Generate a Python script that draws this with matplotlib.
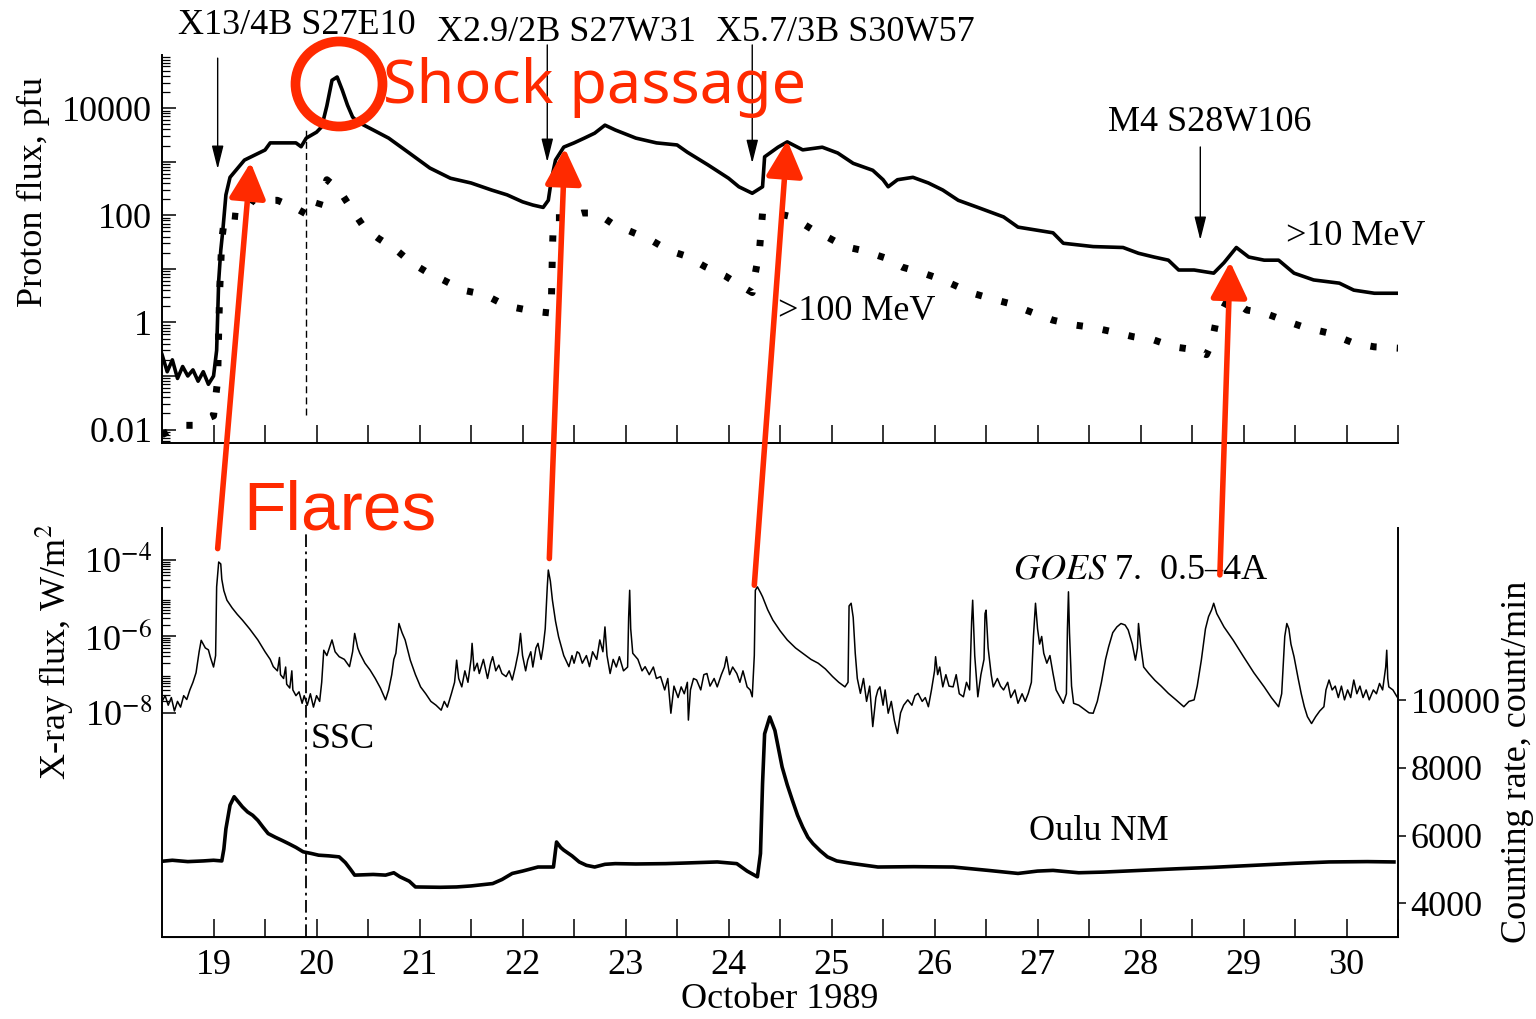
import numpy as np
import matplotlib
matplotlib.use("Agg")
import matplotlib.pyplot as plt
from matplotlib.patches import Ellipse, ConnectionPatch
from matplotlib.ticker import FixedLocator, FuncFormatter, NullFormatter

plt.rcParams['font.family'] = 'Liberation Serif'
plt.rcParams['mathtext.fontset'] = 'stix'
plt.rcParams['font.size'] = 26

RED = '#FF2A00'

# >10 MeV proton flux (pfu)
p10_day = [18.50, 18.55, 18.60, 18.65, 18.70, 18.75, 18.80, 18.85, 18.90, 18.95, 19.00, 19.03,
           19.05, 19.07, 19.09, 19.12, 19.16, 19.30, 19.50, 19.55, 19.80, 19.85, 19.90, 20.00,
           20.05, 20.10, 20.15, 20.20, 20.25, 20.30, 20.35, 20.40, 20.55, 20.70, 20.90, 21.10,
           21.30, 21.50, 21.70, 21.85, 22.00, 22.10, 22.20, 22.25, 22.28, 22.32, 22.40, 22.50,
           22.60, 22.70, 22.80, 22.90, 23.10, 23.30, 23.50, 23.60, 23.80, 24.00, 24.10, 24.23,
           24.33, 24.35, 24.48, 24.57, 24.72, 24.91, 25.06, 25.21, 25.40, 25.50, 25.55, 25.64,
           25.79, 25.94, 26.08, 26.23, 26.42, 26.67, 26.81, 27.15, 27.25, 27.54, 27.83, 27.98,
           28.13, 28.27, 28.37, 28.52, 28.71, 28.81, 28.93, 29.05, 29.20, 29.34, 29.49, 29.68,
           29.93, 30.07, 30.27, 30.50]
p10_flux = [0.25, 0.12, 0.20, 0.09, 0.15, 0.10, 0.13, 0.08, 0.12, 0.07, 0.10, 0.30,
            6, 22, 52, 240, 510, 1070, 1650, 2240, 2240, 1900, 2750, 3550,
            4470, 11000, 33000, 38000, 21600, 11400, 6800, 5500, 3900, 2750, 1450, 760,
            490, 400, 295, 240, 178, 155, 140, 190, 460, 1070, 1870, 2240,
            2750, 3400, 4800, 3900, 2750, 2240, 2050, 1500, 870, 490, 340, 257,
            340, 1230, 1860, 2340, 1660, 1860, 1450, 930, 690, 460, 340, 460,
            510, 400, 295, 190, 140, 93, 60, 47, 30, 26, 25, 19.5,
            16.6, 14.5, 9.5, 9.5, 8.3, 13, 25, 16.6, 14.5, 14.5, 8.3, 6.2,
            5.4, 4.0, 3.5, 3.5]

# >100 MeV proton flux (pfu)
p100_day = [18.50, 18.60, 18.70, 18.80, 18.90, 19.00, 19.04, 19.05, 19.06, 19.08, 19.11, 19.28,
            19.38, 19.62, 19.80, 19.95, 20.00, 20.10, 20.22, 20.33, 20.46, 20.60, 20.78, 20.92,
            21.07, 21.23, 21.42, 21.63, 21.77, 21.92, 22.12, 22.27, 22.28, 22.29, 22.30, 22.42,
            22.58, 22.72, 22.87, 23.08, 23.24, 23.42, 23.60, 23.77, 23.97, 24.12, 24.23, 24.26,
            24.30, 24.33, 24.45, 24.62, 24.82, 24.96, 25.13, 25.30, 25.52, 25.69, 25.89, 26.08,
            26.23, 26.37, 26.57, 26.71, 26.96, 27.15, 27.35, 27.54, 27.74, 27.93, 28.13, 28.32,
            28.52, 28.64, 28.69, 28.73, 28.83, 28.90, 29.03, 29.20, 29.39, 29.59, 29.83, 30.07,
            30.27, 30.51]
p100_flux = [0.008, 0.010, 0.012, 0.012, 0.015, 0.018, 0.085, 0.7, 4, 35, 100, 93,
             190, 190, 135, 93, 110, 460, 295, 140, 60, 37, 22, 13,
             8.7, 6.2, 4.0, 3.3, 2.4, 1.9, 1.6, 1.5, 2.4, 22, 90, 90,
             110, 110, 70, 47, 35, 22, 17, 11, 7.3, 4.8, 3.6, 8.3,
             22, 110, 110, 93, 53, 39, 26, 22, 16, 10.7, 8.3, 6.2,
             4.6, 3.5, 2.7, 2.3, 1.5, 1.1, 0.9, 0.8, 0.66, 0.54, 0.47, 0.35,
             0.31, 0.25, 0.41, 0.98, 2.3, 2.6, 1.7, 1.5, 1.1, 0.81, 0.63, 0.41,
             0.35, 0.33]

# GOES 7 X-ray flux, log10(W/m^2)
xray_day = [18.50, 18.53, 18.56, 18.59, 18.62, 18.65, 18.68, 18.71, 18.74, 18.77, 18.80, 18.83,
            18.86, 18.88, 18.90, 18.92, 18.95, 18.97, 19.00, 19.02, 19.03, 19.05, 19.07, 19.08,
            19.10, 19.13, 19.18, 19.23, 19.28, 19.35, 19.43, 19.50, 19.55, 19.58, 19.62, 19.64,
            19.65, 19.68, 19.70, 19.71, 19.74, 19.76, 19.77, 19.80, 19.83, 19.86, 19.88, 19.91,
            19.94, 19.97, 20.00, 20.03, 20.05, 20.07, 20.10, 20.15, 20.18, 20.22, 20.27, 20.32,
            20.35, 20.37, 20.40, 20.42, 20.47, 20.52, 20.57, 20.62, 20.67, 20.70, 20.73, 20.75,
            20.77, 20.80, 20.83, 20.86, 20.91, 20.96, 21.01, 21.06, 21.11, 21.16, 21.21, 21.24,
            21.27, 21.31, 21.34, 21.36, 21.38, 21.41, 21.44, 21.47, 21.50, 21.51, 21.53, 21.56,
            21.58, 21.62, 21.66, 21.69, 21.71, 21.74, 21.77, 21.80, 21.84, 21.87, 21.90, 21.93,
            21.96, 21.98, 22.00, 22.03, 22.05, 22.08, 22.10, 22.13, 22.15, 22.18, 22.20, 22.22,
            22.24, 22.25, 22.27, 22.29, 22.32, 22.35, 22.40, 22.45, 22.48, 22.50, 22.53, 22.55,
            22.58, 22.62, 22.65, 22.68, 22.72, 22.75, 22.78, 22.80, 22.82, 22.85, 22.88, 22.91,
            22.94, 22.98, 23.02, 23.03, 23.04, 23.05, 23.07, 23.12, 23.16, 23.19, 23.23, 23.27,
            23.30, 23.34, 23.38, 23.41, 23.44, 23.47, 23.51, 23.54, 23.57, 23.60, 23.61, 23.63,
            23.66, 23.69, 23.73, 23.76, 23.79, 23.82, 23.86, 23.89, 23.93, 23.96, 23.98, 24.01,
            24.04, 24.08, 24.11, 24.14, 24.18, 24.21, 24.23, 24.25, 24.26, 24.28, 24.31, 24.33,
            24.38, 24.43, 24.50, 24.57, 24.65, 24.72, 24.80, 24.87, 24.94, 25.01, 25.07, 25.13,
            25.16, 25.17, 25.19, 25.21, 25.23, 25.25, 25.28, 25.31, 25.34, 25.37, 25.40, 25.43,
            25.45, 25.47, 25.50, 25.52, 25.55, 25.58, 25.61, 25.64, 25.67, 25.70, 25.74, 25.78,
            25.81, 25.84, 25.88, 25.91, 25.94, 25.97, 26.00, 26.01, 26.03, 26.05, 26.08, 26.11,
            26.14, 26.18, 26.21, 26.24, 26.28, 26.31, 26.34, 26.36, 26.37, 26.39, 26.42, 26.45,
            26.48, 26.49, 26.50, 26.52, 26.55, 26.57, 26.61, 26.64, 26.67, 26.71, 26.74, 26.78,
            26.81, 26.85, 26.88, 26.91, 26.94, 26.96, 26.98, 27.00, 27.02, 27.04, 27.06, 27.09,
            27.12, 27.15, 27.18, 27.22, 27.25, 27.28, 27.29, 27.30, 27.31, 27.33, 27.35, 27.40,
            27.45, 27.50, 27.54, 27.58, 27.62, 27.66, 27.69, 27.73, 27.77, 27.81, 27.85, 27.88,
            27.92, 27.95, 27.97, 27.98, 28.00, 28.03, 28.08, 28.14, 28.20, 28.27, 28.34, 28.42,
            28.47, 28.52, 28.55, 28.59, 28.63, 28.66, 28.69, 28.71, 28.74, 28.77, 28.81, 28.90,
            29.00, 29.10, 29.20, 29.27, 29.34, 29.37, 29.40, 29.42, 29.44, 29.46, 29.49, 29.53,
            29.56, 29.59, 29.62, 29.66, 29.70, 29.74, 29.78, 29.80, 29.83, 29.86, 29.89, 29.92,
            29.95, 29.98, 30.01, 30.04, 30.07, 30.10, 30.13, 30.16, 30.19, 30.22, 30.26, 30.29,
            30.32, 30.35, 30.38, 30.39, 30.40, 30.41, 30.45, 30.49]
xray_log10 = [-7.70, -7.55, -7.80, -7.60, -7.95, -7.70, -7.85, -7.55, -7.65, -7.40, -7.20, -6.95,
              -6.40, -6.10, -6.20, -6.30, -6.35, -6.55, -6.80, -6.50, -4.70, -4.05, -4.10, -4.50,
              -4.80, -5.05, -5.25, -5.42, -5.57, -5.80, -6.09, -6.40, -6.60, -6.79, -6.90, -6.55,
              -7.00, -7.10, -6.80, -7.25, -7.35, -6.90, -7.40, -7.55, -7.45, -7.75, -7.55, -7.80,
              -7.50, -7.85, -7.55, -7.70, -7.20, -6.36, -6.50, -6.09, -6.40, -6.53, -6.60, -6.79,
              -6.40, -5.92, -6.30, -6.44, -6.70, -6.88, -7.10, -7.35, -7.66, -7.40, -7.00, -6.60,
              -6.44, -5.66, -5.90, -6.09, -6.62, -7.00, -7.32, -7.50, -7.70, -7.80, -7.93, -7.70,
              -7.85, -7.49, -7.20, -6.62, -7.10, -7.32, -6.90, -7.20, -6.60, -6.18, -6.90, -6.70,
              -6.97, -6.60, -7.10, -6.70, -6.53, -6.90, -6.75, -6.97, -7.05, -6.90, -7.14, -6.80,
              -6.40, -5.92, -6.50, -6.90, -6.62, -6.40, -6.80, -6.30, -6.18, -6.60, -6.27, -5.80,
              -4.70, -4.26, -4.55, -5.05, -5.60, -6.01, -6.50, -6.79, -6.50, -6.70, -6.40, -6.44,
              -6.70, -6.50, -6.79, -6.40, -6.60, -6.09, -6.40, -5.75, -6.50, -6.97, -6.60, -6.80,
              -6.53, -6.90, -6.80, -5.50, -4.79, -5.80, -6.44, -6.60, -6.90, -6.79, -7.00, -6.80,
              -7.10, -7.05, -7.40, -7.10, -8.01, -7.30, -7.60, -7.32, -7.50, -7.20, -8.19, -7.40,
              -7.10, -7.14, -7.40, -7.00, -6.97, -7.30, -7.10, -7.32, -7.00, -6.80, -6.53, -7.00,
              -6.80, -6.97, -7.20, -6.90, -7.32, -7.40, -7.58, -6.50, -4.79, -4.70, -4.85, -4.96,
              -5.30, -5.57, -5.85, -6.09, -6.30, -6.44, -6.60, -6.70, -6.85, -7.05, -7.20, -7.32,
              -7.20, -5.20, -5.13, -5.50, -6.44, -7.10, -7.49, -7.10, -7.70, -7.30, -8.36, -7.60,
              -7.40, -7.32, -7.80, -7.40, -8.01, -7.70, -8.20, -8.54, -8.00, -7.80, -7.66, -7.80,
              -7.55, -7.49, -7.70, -7.60, -7.84, -7.40, -6.90, -6.53, -7.00, -6.80, -7.32, -7.00,
              -7.30, -7.32, -7.00, -7.50, -7.58, -7.20, -7.40, -5.60, -5.05, -6.50, -7.58, -7.00,
              -6.60, -5.40, -5.31, -6.30, -7.00, -7.32, -7.10, -7.30, -7.40, -7.20, -7.60, -7.40,
              -7.75, -7.50, -7.70, -7.49, -7.20, -6.00, -5.13, -5.80, -6.20, -6.00, -6.44, -6.70,
              -6.50, -6.97, -7.40, -7.60, -7.75, -7.50, -5.80, -4.83, -5.90, -7.30, -7.75, -7.80,
              -7.90, -8.00, -8.01, -7.70, -7.20, -6.60, -6.27, -5.90, -5.75, -5.66, -5.70, -5.83,
              -6.20, -6.62, -6.30, -5.66, -6.20, -6.80, -6.97, -7.15, -7.30, -7.49, -7.65, -7.84,
              -7.70, -7.66, -7.30, -6.62, -5.80, -5.48, -5.30, -5.13, -5.40, -5.55, -5.75, -6.10,
              -6.53, -6.95, -7.32, -7.60, -7.84, -7.50, -6.00, -5.66, -5.80, -6.20, -6.53, -7.10,
              -7.50, -7.84, -8.10, -8.28, -8.10, -7.95, -7.84, -7.40, -7.14, -7.40, -7.30, -7.60,
              -7.30, -7.66, -7.40, -7.60, -7.14, -7.50, -7.30, -7.60, -7.40, -7.66, -7.40, -7.50,
              -7.23, -7.40, -6.80, -6.36, -7.10, -7.32, -7.40, -7.58]

# Oulu neutron monitor, count/min
oulu_day = [18.50, 18.60, 18.75, 18.90, 19.00, 19.08, 19.10, 19.12, 19.16, 19.20, 19.24, 19.28,
            19.33, 19.38, 19.43, 19.48, 19.53, 19.60, 19.67, 19.73, 19.80, 19.87, 19.95, 20.02,
            20.12, 20.22, 20.28, 20.33, 20.37, 20.55, 20.67, 20.75, 20.81, 20.90, 20.96, 21.20,
            21.36, 21.50, 21.71, 21.80, 21.90, 22.00, 22.15, 22.30, 22.33, 22.37, 22.40, 22.48,
            22.55, 22.62, 22.70, 22.80, 22.90, 23.10, 23.39, 23.60, 23.89, 24.08, 24.18, 24.28,
            24.31, 24.33, 24.35, 24.40, 24.45, 24.52, 24.57, 24.62, 24.67, 24.72, 24.77, 24.82,
            24.89, 24.96, 25.05, 25.21, 25.45, 25.80, 26.18, 26.52, 26.81, 27.00, 27.15, 27.40,
            27.64, 28.00, 28.37, 28.70, 29.10, 29.50, 29.83, 30.20, 30.46]
oulu_rate = [5240, 5270, 5230, 5250, 5270, 5250, 5600, 6200, 6900, 7150, 7000, 6850,
             6700, 6600, 6450, 6250, 6060, 5950, 5850, 5760, 5650, 5520, 5470, 5420,
             5400, 5370, 5200, 5000, 4830, 4850, 4830, 4900, 4780, 4650, 4480, 4470,
             4480, 4510, 4580, 4700, 4880, 4950, 5070, 5070, 5810, 5650, 5570, 5400,
             5220, 5120, 5070, 5150, 5170, 5160, 5170, 5190, 5220, 5170, 4950, 4780,
             5470, 7540, 9010, 9510, 9110, 8030, 7500, 7040, 6600, 6250, 5950, 5760,
             5550, 5370, 5250, 5170, 5070, 5080, 5070, 4970, 4880, 4950, 4970, 4900,
             4920, 4970, 5020, 5060, 5120, 5180, 5220, 5230, 5220]

ssc_day = 19.90

# flare events: label text, day of label centre, day of the black arrow
flare_labels = ['X13/4B S27E10', 'X2.9/2B S27W31', 'X5.7/3B S30W57', 'M4 S28W106']
flare_label_day = [19.81, 22.43, 25.13, 28.67]
flare_arrow_day = [19.04, 22.24, 24.23, 28.58]

# red arrows: X-ray flare peak -> proton onset
red_from_day = [19.04, 22.26, 24.25, 28.77]
red_from_xray = [2.0e-4, 1.1e-4, 2.2e-5, 4.1e-5]
red_to_day = [19.36, 22.41, 24.57, 28.87]
red_to_flux = [970, 1780, 2500, 13.5]

fig = plt.figure(figsize=(15.36, 10.19), dpi=100)
ax1 = fig.add_axes([0.1055, 0.5653, 0.8047, 0.3807])
ax2 = fig.add_axes([0.1055, 0.0805, 0.8047, 0.4013])
ax3 = ax2.twinx()

# top panel: protons
ax1.plot(p10_day, p10_flux, color='k', lw=2.6)
ax1.plot(p100_day, p100_flux, color='k', lw=5, linestyle=(0, (0.9, 2.9)), dash_capstyle='butt')
ax1.axvline(ssc_day, ymin=0.072, ymax=0.814, color='k', lw=1.0, ls=(0, (5, 3)))
ax1.set_yscale('log')
ax1.set_ylim(10 ** -2.25, 10 ** 4.99)
ax1.set_xlim(18.5, 30.5)
ax1.yaxis.set_major_locator(FixedLocator([10.0 ** e for e in range(-2, 5)]))
ax1.yaxis.set_major_formatter(FuncFormatter(
    lambda v, p: {-2: '0.01', 0: '1', 2: '100', 4: '10000'}.get(int(round(np.log10(v))), '')))
ax1.yaxis.set_minor_locator(FixedLocator([k * 10.0 ** e for e in range(-3, 5) for k in range(2, 10)]))
ax1.yaxis.set_minor_formatter(NullFormatter())
ax1.spines['top'].set_visible(False)
ax1.spines['right'].set_visible(False)

# bottom panel: X-ray and neutron monitor
ax2.plot(xray_day, 10.0 ** np.array(xray_log10), color='k', lw=1.1)
ax2.axvline(ssc_day, ymin=0, ymax=0.995, color='k', lw=1.3, ls=(0, (7, 2.5, 1.5, 2.5)))
ax2.set_yscale('log')
ax2.set_ylim(10 ** -13.87, 10 ** -3.16)
ax2.set_xlim(18.5, 30.5)
ax2.yaxis.set_major_locator(FixedLocator([1e-8, 1e-6, 1e-4]))
ax2.yaxis.set_major_formatter(FuncFormatter(
    lambda v, p: r'10$^{%d}$' % int(round(np.log10(v)))))
ax2.yaxis.set_minor_locator(FixedLocator([k * 10.0 ** e for e in range(-8, -4) for k in range(2, 10)]))
ax2.yaxis.set_minor_formatter(NullFormatter())

ax3.plot(oulu_day, oulu_rate, color='k', lw=2.6)
ax3.set_ylim(3000, 15100)
ax3.set_yticks([4000, 6000, 8000, 10000])

for a in (ax2, ax3):
    a.spines['top'].set_visible(False)
ax2.spines['right'].set_visible(False)
ax3.spines['left'].set_visible(False)

for a in (ax1, ax2):
    a.xaxis.set_major_locator(FixedLocator(range(19, 31)))
    a.xaxis.set_minor_locator(FixedLocator(np.arange(19.5, 30.6, 1.0)))
    a.tick_params(axis='x', which='both', direction='in', length=13, width=1.1, pad=9)
    a.tick_params(axis='y', which='major', direction='in', length=10, width=1.1, pad=7)
    a.tick_params(axis='y', which='minor', direction='in', length=6, width=0.9)
    for s in a.spines.values():
        s.set_linewidth(1.4)
ax1.tick_params(axis='x', labelbottom=False)
ax3.tick_params(axis='y', direction='out', length=6, width=1.1, pad=3)
ax3.spines['right'].set_linewidth(1.4)

# axis titles
fig.text(33 / 1536, 1 - 192 / 1019, 'Proton flux, pfu', rotation=90, ha='center', va='center')
fig.text(55 / 1536, 1 - 652 / 1019, r'X-ray flux, W/m$^2$', rotation=90, ha='center', va='center')
fig.text(1517 / 1536, 1 - 762 / 1019, 'Counting rate, count/min', rotation=90, ha='center', va='center')
fig.text(780 / 1536, 1 - 1000 / 1019, 'October 1989', ha='center', va='center')

xt1 = ax1.get_xaxis_transform()
label_y = [1.077, 1.057, 1.057, 0.825]
arrow_top = [0.992, 1.026, 1.026, 0.763]
arrow_bot = [0.706, 0.724, 0.721, 0.523]
for lab, ld, adx, ly, at, ab in zip(flare_labels, flare_label_day, flare_arrow_day,
                                    label_y, arrow_top, arrow_bot):
    ax1.text(ld, ly, lab, transform=xt1, ha='center', va='center', clip_on=False)
    ax1.annotate('', xy=(adx, ab), xytext=(adx, at), xycoords=xt1, textcoords=xt1,
                 arrowprops=dict(arrowstyle='-|>,head_length=0.8,head_width=0.2',
                                 color='k', lw=1.0, mutation_scale=18,
                                 shrinkA=0, shrinkB=0))

ax1.text(29.41, 0.531, '>10 MeV', transform=xt1, ha='left', va='center')
ax1.text(24.48, 0.338, '>100 MeV', transform=xt1, ha='left', va='center')

xt2 = ax2.get_xaxis_transform()
ax2.text(19.94, 0.482, 'SSC', transform=xt2, ha='left', va='center')
ax2.text(26.76, 0.897, r'$\it{GOES}$ 7.  0.5–4A', transform=xt2, ha='left', va='center')
ax2.text(26.92, 0.257, 'Oulu NM', transform=xt2, ha='left', va='center')

# red overlay
for fd, fx, td, tf in zip(red_from_day, red_from_xray, red_to_day, red_to_flux):
    con = ConnectionPatch(xyA=(fd, fx), coordsA=ax2.transData,
                          xyB=(td, tf), coordsB=ax1.transData,
                          arrowstyle='-|>,head_length=0.55,head_width=0.28',
                          mutation_scale=40, color=RED, lw=4,
                          shrinkA=0, shrinkB=0, zorder=10)
    fig.add_artist(con)

fig.add_artist(Ellipse((3.39, 9.35), 0.87, 0.85, transform=fig.dpi_scale_trans,
                       fill=False, ec=RED, lw=7, zorder=10))
fig.text(383 / 1536, 1 - 103 / 1019, 'Shock passage', color=RED, family='Noto Sans',
         fontsize=44, ha='left', va='baseline', zorder=10)
fig.text(243 / 1536, 1 - 530 / 1019, 'Flares', color=RED, family='Liberation Sans',
         fontsize=50, ha='left', va='baseline', zorder=10)

fig.savefig('out.png', dpi=100, facecolor='white')
